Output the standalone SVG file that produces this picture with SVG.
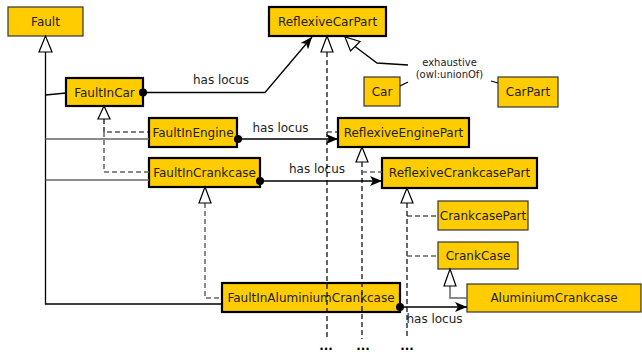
<svg xmlns="http://www.w3.org/2000/svg" width="642" height="352" viewBox="0 0 642 352">
<style>
text{font-family:"DejaVu Sans","Liberation Sans",sans-serif;font-size:12px;fill:#222;text-anchor:middle}
.small{font-size:10px}
.dots{font-weight:bold;fill:#000}
.box{fill:#ffcc00;stroke:#333;stroke-width:1.2}
.thick{fill:#ffcc00;stroke:#000;stroke-width:2.2}
.ln{fill:none;stroke:#000;stroke-width:1.3}
.gl{fill:none;stroke:#666;stroke-width:1.5}
.dk{fill:none;stroke:#000;stroke-width:1.2;stroke-dasharray:5,3}
.dg{fill:none;stroke:#666;stroke-width:1.5;stroke-dasharray:5,3}
.tri{fill:#fff;stroke:#000;stroke-width:1.2}
</style>
<defs>
<marker id="arr" viewBox="0 0 12 10" refX="12" refY="5" markerWidth="12" markerHeight="10" markerUnits="userSpaceOnUse" orient="auto">
<path d="M0,0 L12,5 L0,10 L3,5 z" fill="#000"/>
</marker>
<marker id="dot" viewBox="-5 -5 10 10" refX="0" refY="0" markerWidth="9" markerHeight="9" markerUnits="userSpaceOnUse">
<circle cx="0" cy="0" r="4.5" fill="#000"/>
</marker>
</defs>
<g id="Fault"><rect class="box" x="8" y="7" width="75" height="29"/><text x="45.5" y="26">Fault</text></g>
<g id="FaultInCar"><rect class="thick" x="66" y="78" width="77" height="28"/><text x="104.5" y="96.5">FaultInCar</text></g>
<g id="FaultInEngine"><rect class="thick" x="149" y="118" width="88" height="29"/><text x="193" y="137">FaultInEngine</text></g>
<g id="FaultInCrankcase"><rect class="thick" x="149" y="158" width="111" height="29"/><text x="204.5" y="177">FaultInCrankcase</text></g>
<g id="FaultInAluminiumCrankcase"><rect class="thick" x="222" y="283" width="178" height="29"/><text x="311" y="302">FaultInAluminiumCrankcase</text></g>
<g id="ReflexiveCarPart"><rect class="thick" x="269" y="7" width="117" height="29"/><text x="327.5" y="26">ReflexiveCarPart</text></g>
<g id="Car"><rect class="box" x="364" y="77" width="36" height="29"/><text x="382" y="96">Car</text></g>
<g id="CarPart"><rect class="box" x="498" y="77" width="60" height="30"/><text x="528" y="96">CarPart</text></g>
<g id="ReflexiveEnginePart"><rect class="thick" x="338" y="118" width="131" height="29"/><text x="403.5" y="137">ReflexiveEnginePart</text></g>
<g id="ReflexiveCrankcasePart"><rect class="thick" x="382" y="158" width="155" height="30"/><text x="459.5" y="177">ReflexiveCrankcasePart</text></g>
<g id="CrankcasePart"><rect class="box" x="438" y="201" width="90" height="29"/><text x="483" y="220">CrankcasePart</text></g>
<g id="CrankCase"><rect class="box" x="438" y="242" width="80" height="27"/><text x="478" y="260">CrankCase</text></g>
<g id="AluminiumCrankcase"><rect class="box" x="467" y="284" width="174" height="28"/><text x="554" y="302">AluminiumCrankcase</text></g>
<g id="connectors">
<!-- Fault hierarchy -->
<polyline class="ln" points="45.5,52 45.5,304 222,304"/>
<line class="ln" x1="45.5" y1="95" x2="66" y2="93"/>
<line class="gl" x1="45.5" y1="139" x2="149" y2="139"/>
<line class="gl" x1="45.5" y1="180" x2="149" y2="180"/>
<polygon class="tri" points="45.5,36 39,52 52,52"/>
<!-- FaultInCar subclasses -->
<polyline class="dk" points="104,119 104,132 149,132"/>
<polyline class="dg" points="104,132 104,172 149,172"/>
<polygon class="tri" points="104,106 98,119 110,119"/>
<!-- FaultInCrankcase subclass -->
<polyline class="dg" points="205,203 205,298 222,298"/>
<polygon class="tri" points="205,187 199,203 211,203"/>
<!-- has locus -->
<polyline class="ln" points="143,92.5 265,92.5 312,37" marker-start="url(#dot)" marker-end="url(#arr)"/>
<line class="ln" x1="238" y1="139" x2="338" y2="139" marker-start="url(#dot)" marker-end="url(#arr)"/>
<line class="ln" x1="260" y1="181" x2="382" y2="181" marker-start="url(#dot)" marker-end="url(#arr)"/>
<line class="ln" x1="400" y1="307" x2="467" y2="307" marker-start="url(#dot)" marker-end="url(#arr)"/>
<text x="221" y="84">has locus</text>
<text x="280.5" y="132">has locus</text>
<text x="317" y="173">has locus</text>
<text x="434.5" y="323">has locus</text>
<!-- Reflexive hierarchy -->
<line class="dk" x1="327" y1="52" x2="327" y2="339"/>
<line class="dk" x1="327" y1="132" x2="338" y2="132"/>
<polygon class="tri" points="327,36 321,52 333,52"/>
<line class="dk" x1="362" y1="162" x2="362" y2="339"/>
<line class="dg" x1="362" y1="172" x2="382" y2="172"/>
<polygon class="tri" points="362,147 356,162 368,162"/>
<line class="dk" x1="407" y1="203" x2="407" y2="339"/>
<line class="dk" x1="407" y1="216" x2="438" y2="216"/>
<line class="dg" x1="407" y1="256" x2="438" y2="256"/>
<polygon class="tri" points="407,188 401,203 413,203"/>
<!-- CrankCase subclass -->
<polyline class="gl" points="450,286 450,298 467,298"/>
<polygon class="tri" points="450,269 444,286 456,286"/>
<!-- exhaustive union -->
<polyline class="ln" points="355,46.5 377,63 408,65"/>
<polygon class="tri" points="345,37 350.5,51 360,41.5"/>
<text class="small" x="449.5" y="66">exhaustive</text>
<text class="small" x="449.5" y="78">(owl:unionOf)</text>
<line class="ln" x1="400" y1="86" x2="408" y2="82"/>
<line class="ln" x1="491" y1="81" x2="498" y2="83"/>
<!-- continuation marks -->
<text class="dots" x="326" y="350">...</text>
<text class="dots" x="363" y="350">...</text>
<text class="dots" x="407" y="350">...</text>
</g>
</svg>
